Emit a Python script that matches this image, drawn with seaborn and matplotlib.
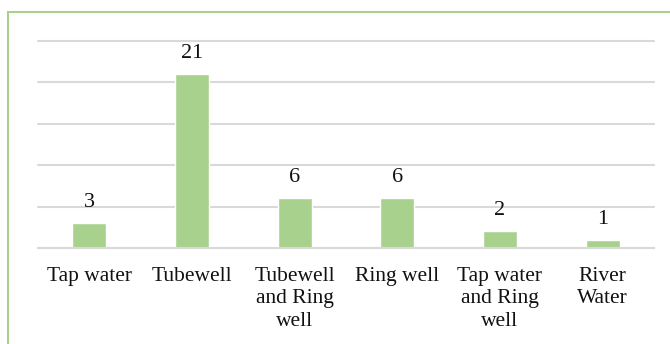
import matplotlib
matplotlib.use("Agg")
import matplotlib.pyplot as plt
import matplotlib.patches as mpatches
import pandas as pd
import seaborn as sns

categories = ["Tap water", "Tubewell", "Tubewell\nand Ring\nwell", "Ring well",
              "Tap water\nand Ring\nwell", "River\nWater"]
counts = [3, 21, 6, 6, 2, 1]

df = pd.DataFrame({"source": categories, "count": counts})

sns.set_style("white")
plt.rcParams["font.family"] = ["Liberation Serif", "DejaVu Serif"]

fig = plt.figure(figsize=(6.7, 3.44), dpi=100)
ax = fig.add_axes([38 / 670, 1 - 248 / 344, (654 - 38) / 670, (248 - 41) / 344])

sns.barplot(data=df, x="source", y="count", color="#a9d18e", saturation=1,
            width=0.33, ax=ax)

ax.set_ylim(0, 25)
ax.set_yticks([0, 5, 10, 15, 20, 25])
ax.yaxis.grid(True, color="#d9d9d9", linewidth=1.5)
for gl in ax.get_ygridlines():
    gl.set_clip_on(False)
ax.set_axisbelow(True)
ax.tick_params(axis="y", left=False, labelleft=False)
ax.set_xticks(range(len(categories)), labels=categories, linespacing=1.25,
              fontsize=15.5, color="#111111")
ax.tick_params(axis="x", bottom=False, pad=10)
ax.set_xlabel("")
ax.set_ylabel("")
for s in ["top", "right", "left"]:
    ax.spines[s].set_visible(False)
ax.spines["bottom"].set_color("#d9d9d9")
ax.spines["bottom"].set_linewidth(1.5)

for cont in ax.containers:
    ax.bar_label(cont, padding=8, fontsize=16, color="#111111")

# outer chart border (right and bottom edges fall outside the image)
top = 1 - 12 / 344
border = mpatches.Rectangle((8 / 670, -0.2), 1.2, top + 0.2,
                            transform=fig.transFigure, fill=False,
                            edgecolor="#a9d18e", linewidth=1.5, clip_on=False)
fig.patches.append(border)

fig.savefig("out.png", dpi=100)
